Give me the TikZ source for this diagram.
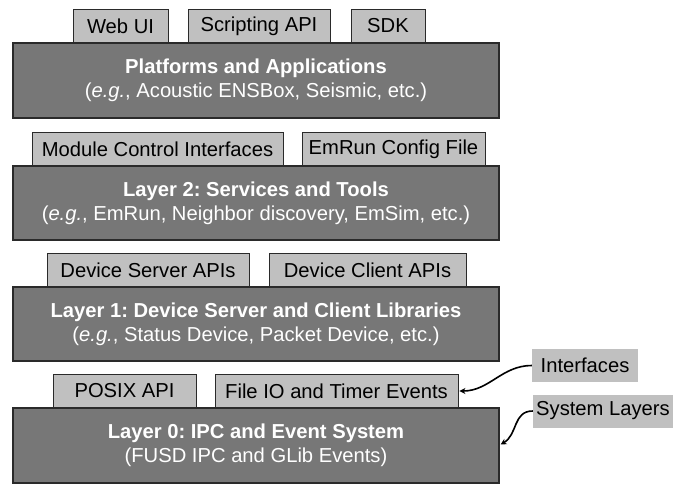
\documentclass[tikz,border=0pt]{standalone}
\usepackage{fontspec}
\setmainfont{Liberation Sans}
\usetikzlibrary{arrows.meta}
\definecolor{bigfill}{HTML}{777777}
\definecolor{smallfill}{HTML}{C0C0C0}
\definecolor{edgecol}{HTML}{2A2A2A}
\frenchspacing
\begin{document}
\begin{tikzpicture}[x=1pt,y=-1pt,
  bigbox/.style={draw=edgecol,line width=1.2pt,fill=bigfill,text=white,inner sep=0pt,
    minimum width=486pt,minimum height=75pt,align=center,
    font=\fontsize{20.2}{24}\selectfont},
  smallbox/.style={draw=edgecol,line width=0.9pt,fill=smallfill,inner sep=0pt,
    minimum height=34pt,font=\fontsize{20.2}{24}\selectfont},
  tagbox/.style={fill=smallfill,inner sep=0pt,minimum height=33pt,
    font=\fontsize{20.2}{24}\selectfont},
  pointer/.style={line width=1.6pt,-{Stealth[length=6pt,width=6pt]}}]
\useasboundingbox (0,0) rectangle (675,487);
% small boxes (drawn first so big boxes overlap their bottom edges)
\node[smallbox,minimum width=95pt] (webui) at (120.5,26) {Web UI};
\node[smallbox,minimum width=142pt] (script) at (259,26) {Scripting API};
\node[smallbox,minimum width=74pt] (sdk) at (388,26) {SDK};
\node[smallbox,minimum width=251pt] (mci) at (157.5,149) {Module Control Interfaces};
\node[smallbox,minimum width=183pt] (emcfg) at (393.5,149) {EmRun Config File};
\node[smallbox,minimum width=202pt] (dsapi) at (148,270) {Device Server APIs};
\node[smallbox,minimum width=197pt] (dcapi) at (367.5,270) {Device Client APIs};
\node[smallbox,minimum width=143pt] (posix) at (124.5,391) {POSIX API};
\node[smallbox,minimum width=243pt] (fileio) at (336.5,391) {File IO and Timer Events};
% big boxes
\node[bigbox] (b1) at (256,80.5) {\textbf{Platforms and Applications}\\(\textit{e.g.}, Acoustic ENSBox, Seismic, etc.)};
\node[bigbox,minimum height=74pt] (b2) at (256,203) {\textbf{Layer 2: Services and Tools}\\(\textit{e.g.}, EmRun, Neighbor discovery, EmSim, etc.)};
\node[bigbox,minimum height=74pt] (b3) at (256,324) {\textbf{Layer 1: Device Server and Client Libraries}\\(\textit{e.g.}, Status Device, Packet Device, etc.)};
\node[bigbox] (b4) at (256,445.5) {\textbf{Layer 0: IPC and Event System}\\(FUSD IPC and GLib Events)};
% tags
\node[tagbox,minimum width=106pt] (ifc) at (585,365.5) {Interfaces};
\node[tagbox,minimum width=140pt] (sysl) at (603,411) {System Layers};
% pointers
\draw[pointer] (ifc.west) to[out=180,in=0] ([xshift=1pt]fileio.east);
\draw[pointer] (sysl.west) to[out=180,in=30,looseness=1.1] ([xshift=1pt,yshift=1pt]b4.east);
\end{tikzpicture}
\end{document}
